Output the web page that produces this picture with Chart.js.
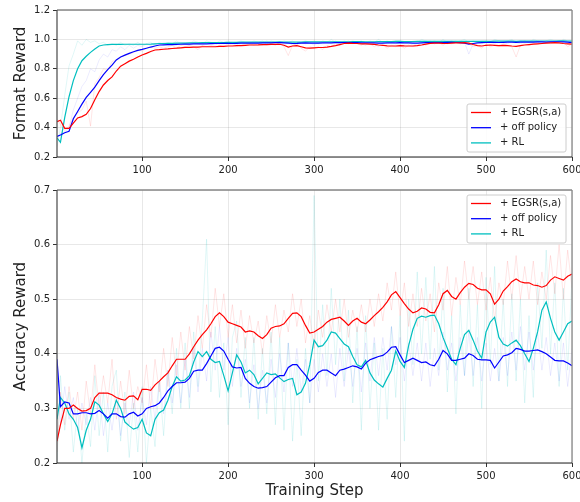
<!DOCTYPE html>
<html>
<head>
<meta charset="utf-8">
<script src="https://cdn.jsdelivr.net/npm/chart.js@4.4.1/dist/chart.umd.min.js"></script>
<style>
  html, body { margin: 0; padding: 0; background: #fff; }
  #wrap { position: relative; width: 580px; height: 502px; }
  #fmt { position: absolute; left: 0; top: 0; }
  #acc { position: absolute; left: 0; top: 180px; }
</style>
</head>
<body>
<div id="wrap">
  <canvas id="fmt" width="580" height="180" style="width:580px;height:180px"></canvas>
  <canvas id="acc" width="580" height="322" style="width:580px;height:322px"></canvas>
</div>
<script>
// training steps: 1, 5, 10, ... 600
const steps = [1];
for (let s = 5; s <= 600; s += 5) steps.push(s);

const seriesNames = ['+ EGSR(s,a)', '+ off policy', '+ RL'];
const xTicks = [100, 200, 300, 400, 500, 600];

/* Format reward (top) */
const fmtRed = [
  0.44,0.45,0.395,0.395,0.43,0.466,0.475,0.49,0.53,0.59,
  0.645,0.69,0.72,0.745,0.785,0.818,0.835,0.852,0.865,0.88,
  0.894,0.905,0.918,0.928,0.93,0.933,0.935,0.938,0.94,0.943,
  0.946,0.946,0.948,0.948,0.95,0.95,0.95,0.95,0.952,0.953,
  0.955,0.955,0.957,0.958,0.96,0.962,0.962,0.963,0.965,0.965,
  0.966,0.966,0.967,0.96,0.948,0.955,0.958,0.95,0.942,0.94,
  0.943,0.945,0.945,0.948,0.952,0.958,0.965,0.972,0.975,0.973,
  0.972,0.97,0.97,0.968,0.966,0.962,0.96,0.956,0.955,0.955,
  0.958,0.956,0.955,0.955,0.958,0.962,0.968,0.973,0.975,0.975,
  0.973,0.972,0.975,0.976,0.977,0.978,0.975,0.965,0.958,0.955,
  0.96,0.962,0.96,0.958,0.96,0.958,0.955,0.953,0.958,0.962,
  0.965,0.968,0.97,0.972,0.974,0.976,0.978,0.976,0.972,0.97,
  0.968
];
const fmtBlue = [
  0.34,0.35,0.365,0.375,0.46,0.51,0.56,0.605,0.64,0.675,
  0.72,0.76,0.795,0.825,0.86,0.88,0.893,0.905,0.916,0.925,
  0.932,0.94,0.948,0.955,0.962,0.963,0.964,0.965,0.966,0.967,
  0.968,0.968,0.969,0.97,0.97,0.97,0.971,0.972,0.972,0.973,
  0.973,0.972,0.973,0.974,0.974,0.975,0.975,0.974,0.976,0.977,
  0.977,0.978,0.978,0.976,0.974,0.972,0.973,0.975,0.976,0.975,
  0.974,0.975,0.976,0.977,0.977,0.978,0.978,0.979,0.979,0.978,
  0.978,0.977,0.976,0.977,0.976,0.974,0.975,0.976,0.977,0.977,
  0.978,0.977,0.976,0.974,0.975,0.977,0.978,0.978,0.979,0.978,
  0.979,0.98,0.98,0.979,0.978,0.975,0.968,0.972,0.976,0.978,
  0.979,0.98,0.98,0.979,0.98,0.981,0.981,0.98,0.981,0.982,
  0.982,0.982,0.983,0.983,0.982,0.983,0.984,0.984,0.983,0.982,
  0.978
];
const fmtCyan = [
  0.33,0.30,0.47,0.61,0.72,0.80,0.855,0.885,0.912,0.935,
  0.955,0.962,0.965,0.966,0.966,0.966,0.967,0.967,0.967,0.967,
  0.967,0.967,0.968,0.97,0.972,0.972,0.973,0.973,0.974,0.975,
  0.975,0.976,0.977,0.977,0.978,0.978,0.978,0.979,0.979,0.979,
  0.98,0.98,0.98,0.981,0.981,0.981,0.981,0.982,0.982,0.982,
  0.982,0.982,0.983,0.982,0.982,0.981,0.982,0.982,0.983,0.983,
  0.983,0.983,0.984,0.984,0.984,0.983,0.983,0.984,0.984,0.985,
  0.985,0.985,0.984,0.984,0.984,0.985,0.985,0.985,0.985,0.986,
  0.986,0.985,0.985,0.985,0.986,0.986,0.986,0.986,0.986,0.987,
  0.987,0.987,0.986,0.986,0.987,0.987,0.987,0.986,0.986,0.987,
  0.987,0.987,0.988,0.988,0.988,0.988,0.988,0.987,0.988,0.988,
  0.988,0.988,0.989,0.989,0.989,0.989,0.989,0.99,0.99,0.989,
  0.988
];
const fmtRedRaw = [
  0.46,0.42,0.38,0.41,0.47,0.50,0.52,0.58,0.41,0.70,
  0.74,0.80,0.79,0.85,0.86,0.88,0.89,0.90,0.91,0.93,
  0.92,0.94,0.95,0.94,0.95,0.94,0.95,0.96,0.94,0.96,
  0.95,0.96,0.95,0.93,0.96,0.95,0.96,0.95,0.96,0.95,
  0.97,0.96,0.95,0.97,0.96,0.97,0.96,0.97,0.96,0.98,
  0.97,0.96,0.98,0.95,0.89,0.96,0.97,0.94,0.92,0.95,
  0.94,0.95,0.93,0.96,0.95,0.97,0.96,0.98,0.97,0.98,
  0.97,0.96,0.98,0.97,0.95,0.97,0.96,0.94,0.96,0.95,
  0.96,0.94,0.96,0.95,0.96,0.97,0.96,0.98,0.97,0.98,
  0.96,0.98,0.97,0.98,0.97,0.98,0.97,0.95,0.96,0.94,
  0.97,0.95,0.96,0.95,0.97,0.96,0.95,0.88,0.96,0.97,
  0.96,0.97,0.98,0.97,0.98,0.97,0.98,0.97,0.98,0.95,
  0.97
];
const fmtBlueRaw = [
  0.33,0.36,0.37,0.40,0.52,0.60,0.68,0.72,0.80,0.78,
  0.86,0.90,0.88,0.93,0.92,0.95,0.93,0.96,0.94,0.96,
  0.95,0.97,0.96,0.97,0.96,0.98,0.96,0.97,0.96,0.98,
  0.97,0.96,0.98,0.97,0.96,0.98,0.97,0.96,0.98,0.97,
  0.98,0.97,0.96,0.98,0.97,0.98,0.97,0.98,0.97,0.99,
  0.97,0.98,0.97,0.96,0.98,0.96,0.97,0.98,0.97,0.98,
  0.96,0.98,0.97,0.98,0.97,0.99,0.97,0.98,0.99,0.97,
  0.98,0.97,0.96,0.98,0.97,0.95,0.98,0.97,0.98,0.97,
  0.98,0.97,0.98,0.96,0.97,0.98,0.97,0.99,0.97,0.98,
  0.99,0.97,0.98,0.99,0.97,0.98,0.90,0.97,0.98,0.97,
  0.99,0.98,0.97,0.99,0.98,0.97,0.99,0.98,0.97,0.99,
  0.98,0.99,0.98,0.97,0.99,0.98,0.99,0.98,0.99,0.97,
  0.98
];
const fmtCyanRaw = [
  0.27,0.40,0.62,0.82,0.90,0.99,0.96,1.00,0.98,0.99,
  0.97,0.98,0.96,0.97,0.96,0.98,0.96,0.97,0.96,0.98,
  0.96,0.97,0.98,0.96,0.98,0.97,0.98,0.97,0.99,0.97,
  0.98,0.97,0.99,0.98,0.97,0.99,0.98,0.97,0.99,0.98,
  0.99,0.97,0.98,0.99,0.98,0.97,0.99,0.98,0.99,0.97,
  0.99,0.98,0.97,0.99,0.98,0.99,0.97,0.98,0.99,0.98,
  0.99,0.97,0.99,0.98,1.00,0.98,0.97,0.99,0.98,0.99,
  0.98,0.99,0.97,0.99,0.98,1.00,0.98,0.99,0.98,0.99,
  0.99,0.98,0.97,0.99,0.98,1.00,0.99,0.98,0.99,0.98,
  1.00,0.98,0.99,0.98,0.99,1.00,0.98,0.99,0.98,0.99,
  0.99,0.98,1.00,0.99,0.98,0.99,1.00,0.98,0.99,0.99,
  0.98,1.00,0.99,0.98,0.99,1.00,0.99,0.98,1.00,0.99,
  0.99
];

/* Accuracy reward (bottom) */
const accRed = [
  0.24,0.27,0.30,0.30,0.306,0.30,0.295,0.296,0.30,0.32,
  0.328,0.328,0.328,0.325,0.32,0.317,0.315,0.322,0.323,0.316,
  0.335,0.335,0.333,0.343,0.35,0.358,0.365,0.378,0.39,0.39,
  0.39,0.40,0.413,0.425,0.435,0.444,0.455,0.468,0.475,0.468,
  0.458,0.455,0.452,0.449,0.44,0.442,0.44,0.433,0.428,0.435,
  0.447,0.45,0.451,0.455,0.465,0.474,0.475,0.468,0.452,0.438,
  0.44,0.445,0.45,0.458,0.463,0.465,0.467,0.46,0.452,0.46,
  0.465,0.458,0.455,0.462,0.47,0.477,0.485,0.495,0.508,0.514,
  0.503,0.492,0.482,0.475,0.478,0.484,0.482,0.476,0.475,0.49,
  0.51,0.516,0.505,0.50,0.512,0.522,0.529,0.527,0.52,0.517,
  0.517,0.51,0.491,0.50,0.515,0.523,0.532,0.537,0.532,0.53,
  0.53,0.526,0.525,0.522,0.525,0.535,0.541,0.538,0.535,0.542,
  0.546
];
const accBlue = [
  0.39,0.303,0.312,0.31,0.29,0.29,0.292,0.292,0.29,0.291,
  0.296,0.29,0.282,0.29,0.29,0.285,0.284,0.29,0.293,0.286,
  0.29,0.30,0.303,0.305,0.31,0.32,0.332,0.34,0.347,0.347,
  0.348,0.355,0.368,0.37,0.37,0.382,0.396,0.41,0.412,0.405,
  0.39,0.376,0.374,0.375,0.355,0.346,0.34,0.337,0.338,0.34,
  0.348,0.356,0.36,0.36,0.375,0.38,0.38,0.37,0.361,0.35,
  0.355,0.366,0.37,0.37,0.365,0.36,0.37,0.372,0.375,0.378,
  0.376,0.372,0.383,0.389,0.392,0.395,0.397,0.403,0.412,0.413,
  0.398,0.384,0.388,0.392,0.388,0.384,0.385,0.38,0.378,0.39,
  0.406,0.40,0.388,0.388,0.39,0.392,0.40,0.397,0.39,0.389,
  0.389,0.388,0.374,0.385,0.396,0.398,0.402,0.41,0.408,0.405,
  0.405,0.406,0.407,0.404,0.40,0.394,0.388,0.387,0.387,0.383,
  0.378
];
const accCyan = [
  0.28,0.32,0.31,0.29,0.28,0.265,0.228,0.26,0.28,0.312,
  0.306,0.29,0.276,0.29,0.315,0.30,0.275,0.268,0.262,0.265,
  0.28,0.255,0.25,0.28,0.292,0.297,0.315,0.34,0.358,0.35,
  0.352,0.36,0.385,0.404,0.395,0.404,0.39,0.384,0.386,0.36,
  0.332,0.365,0.398,0.385,0.365,0.37,0.362,0.345,0.355,0.365,
  0.362,0.363,0.356,0.349,0.353,0.355,0.325,0.33,0.346,0.38,
  0.425,0.413,0.415,0.425,0.44,0.438,0.428,0.418,0.413,0.395,
  0.38,0.376,0.388,0.365,0.352,0.345,0.339,0.355,0.37,0.405,
  0.386,0.375,0.415,0.445,0.465,0.469,0.467,0.47,0.471,0.455,
  0.43,0.41,0.39,0.38,0.41,0.435,0.443,0.425,0.405,0.392,
  0.44,0.458,0.467,0.43,0.418,0.414,0.42,0.425,0.415,0.40,
  0.386,0.41,0.44,0.48,0.495,0.465,0.44,0.425,0.44,0.455,
  0.46
];
const accRedRaw = [
  0.22,0.33,0.27,0.34,0.28,0.33,0.26,0.35,0.29,0.38,
  0.30,0.36,0.31,0.39,0.28,0.35,0.29,0.37,0.30,0.34,
  0.31,0.38,0.30,0.39,0.33,0.41,0.34,0.43,0.36,0.44,
  0.37,0.45,0.39,0.47,0.41,0.49,0.43,0.52,0.45,0.51,
  0.43,0.49,0.42,0.48,0.41,0.47,0.42,0.46,0.40,0.47,
  0.42,0.49,0.43,0.48,0.44,0.51,0.45,0.50,0.42,0.47,
  0.41,0.48,0.43,0.49,0.44,0.50,0.44,0.50,0.43,0.48,
  0.44,0.49,0.44,0.50,0.45,0.51,0.46,0.53,0.48,0.55,
  0.47,0.53,0.45,0.51,0.45,0.52,0.46,0.51,0.44,0.53,
  0.48,0.56,0.47,0.54,0.49,0.57,0.50,0.56,0.49,0.55,
  0.48,0.54,0.46,0.53,0.49,0.57,0.50,0.58,0.50,0.56,
  0.50,0.57,0.49,0.55,0.50,0.58,0.51,0.60,0.50,0.59,
  0.52
];
const accBlueRaw = [
  0.40,0.27,0.34,0.28,0.32,0.26,0.31,0.27,0.32,0.26,
  0.33,0.25,0.31,0.26,0.32,0.25,0.31,0.27,0.33,0.26,
  0.32,0.27,0.34,0.28,0.35,0.29,0.37,0.31,0.38,0.31,
  0.39,0.32,0.41,0.33,0.41,0.35,0.44,0.37,0.45,0.37,
  0.43,0.34,0.41,0.34,0.39,0.31,0.38,0.30,0.37,0.31,
  0.39,0.32,0.40,0.33,0.42,0.34,0.41,0.33,0.39,0.31,
  0.39,0.33,0.40,0.34,0.40,0.32,0.41,0.34,0.41,0.34,
  0.41,0.33,0.42,0.35,0.43,0.36,0.43,0.37,0.45,0.38,
  0.43,0.35,0.42,0.36,0.42,0.35,0.42,0.34,0.41,0.36,
  0.44,0.37,0.42,0.35,0.43,0.36,0.44,0.36,0.43,0.35,
  0.42,0.35,0.41,0.35,0.43,0.36,0.44,0.37,0.45,0.37,
  0.44,0.37,0.44,0.37,0.43,0.36,0.42,0.35,0.42,0.34,
  0.41
];
const accCyanRaw = [
  0.20,0.36,0.26,0.33,0.22,0.30,0.20,0.29,0.23,0.36,
  0.25,0.33,0.22,0.34,0.37,0.24,0.33,0.21,0.31,0.22,
  0.34,0.20,0.30,0.23,0.35,0.25,0.37,0.29,0.41,0.30,
  0.42,0.30,0.44,0.34,0.46,0.61,0.33,0.45,0.32,0.42,
  0.27,0.43,0.46,0.32,0.43,0.30,0.43,0.28,0.41,0.29,
  0.44,0.27,0.43,0.26,0.42,0.24,0.39,0.25,0.41,0.31,
  0.69,0.35,0.49,0.36,0.52,0.38,0.50,0.35,0.48,0.31,
  0.45,0.26,0.47,0.30,0.42,0.26,0.41,0.28,0.45,0.32,
  0.47,0.24,0.50,0.38,0.55,0.40,0.54,0.39,0.56,0.37,
  0.52,0.33,0.47,0.29,0.49,0.36,0.52,0.34,0.49,0.30,
  0.54,0.38,0.56,0.35,0.50,0.34,0.51,0.35,0.50,0.31,
  0.47,0.32,0.53,0.41,0.59,0.40,0.53,0.34,0.52,0.37,
  0.54
];

const colors = ['#ff0000', '#0000ff', '#00bfbf'];
const rawColors = ['rgba(255,0,0,0.10)', 'rgba(0,0,255,0.08)', 'rgba(0,191,191,0.12)'];

Chart.defaults.font.family = 'DejaVu Sans';
Chart.defaults.font.size = 10;
Chart.defaults.color = '#222';

function pts(vals) {
  return steps.map((s, i) => ({ x: s, y: vals[i] }));
}

function buildSets(smooth, raw) {
  const sets = [];
  smooth.forEach((vals, i) => {
    sets.push({ label: seriesNames[i], data: pts(vals), borderColor: colors[i],
      borderWidth: 1.2, pointRadius: 0, order: 0 });
  });
  raw.forEach((vals, i) => {
    sets.push({ label: 'raw' + i, data: pts(vals), borderColor: rawColors[i],
      borderWidth: 1, pointRadius: 0, order: 1 });
  });
  return sets;
}

// spines like matplotlib
const spines = {
  id: 'spines',
  afterDatasetsDraw(chart) {
    const { ctx, chartArea: a } = chart;
    ctx.save();
    ctx.lineWidth = 1.3;
    ctx.strokeStyle = '#888';
    ctx.beginPath();
    ctx.moveTo(a.left, a.top); ctx.lineTo(a.right, a.top);
    ctx.moveTo(a.right, a.top); ctx.lineTo(a.right, a.bottom);
    ctx.stroke();
    ctx.strokeStyle = '#555';
    ctx.beginPath();
    ctx.moveTo(a.left, a.top); ctx.lineTo(a.left, a.bottom);
    ctx.stroke();
    ctx.strokeStyle = '#222';
    ctx.lineWidth = 1.2;
    ctx.beginPath();
    ctx.moveTo(a.left, a.bottom); ctx.lineTo(a.right, a.bottom);
    ctx.stroke();
    ctx.restore();
  }
};

// legend boxed inside the plot
const innerLegend = {
  id: 'innerLegend',
  afterDraw(chart, args, opts) {
    const { ctx, chartArea: a } = chart;
    const w = 99, h = 48;
    const x = a.right - 6 - w;
    const y = opts.corner === 'tr' ? a.top + 5 : a.bottom - 5 - h;
    ctx.save();
    ctx.beginPath();
    ctx.roundRect(x, y, w, h, 2);
    ctx.fillStyle = 'rgba(255,255,255,0.85)';
    ctx.fill();
    ctx.strokeStyle = '#cccccc';
    ctx.lineWidth = 1;
    ctx.stroke();
    ctx.font = '10px "DejaVu Sans"';
    ctx.textBaseline = 'middle';
    ctx.fillStyle = '#222';
    seriesNames.forEach((name, i) => {
      const cy = y + 8.5 + i * 15.2;
      ctx.strokeStyle = colors[i];
      ctx.lineWidth = 1.3;
      ctx.beginPath();
      ctx.moveTo(x + 4, cy); ctx.lineTo(x + 24, cy);
      ctx.stroke();
      ctx.fillText(name, x + 33, cy);
    });
    ctx.restore();
  }
};

function makeOptions(yMin, yMax, yStep, yTitle, xTitle, xAxisH, corner) {
  return {
    responsive: false,
    animation: false,
    layout: { padding: { left: 0, right: 8, top: 10, bottom: 0 } },
    plugins: { legend: { display: false }, tooltip: { enabled: false },
      innerLegend: { corner: corner } },
    scales: {
      x: {
        type: 'linear', min: 1, max: 600,
        afterBuildTicks: (s) => { s.ticks = xTicks.map(v => ({ value: v })); },
        afterFit: (s) => { s.height = xAxisH; s.paddingRight = 0; s.paddingLeft = 0; },
        ticks: { padding: 3, maxRotation: 0, color: '#222' },
        grid: { color: 'rgba(0,0,0,0.09)', tickLength: 4, tickColor: '#333' },
        border: { display: false },
        title: { display: !!xTitle, text: xTitle, font: { size: 15 }, color: '#222',
          padding: { top: 0, bottom: 2 } }
      },
      y: {
        min: yMin, max: yMax,
        afterFit: (s) => { s.width = 57; s.paddingTop = 0; s.paddingBottom = 0; },
        ticks: { stepSize: yStep, padding: 3, color: '#222',
          callback: (v) => v.toFixed(1) },
        grid: { color: 'rgba(0,0,0,0.09)', tickLength: 4, tickColor: '#333' },
        border: { display: false },
        title: { display: true, text: yTitle, font: { size: 15 }, color: '#222',
          padding: { top: 12, bottom: 0 } }
      }
    }
  };
}

new Chart(document.getElementById('fmt'), {
  type: 'line',
  data: { datasets: buildSets([fmtRed, fmtBlue, fmtCyan], [fmtRedRaw, fmtBlueRaw, fmtCyanRaw]) },
  options: makeOptions(0.2, 1.2, 0.2, 'Format Reward', '', 23, 'br'),
  plugins: [spines, innerLegend]
});

new Chart(document.getElementById('acc'), {
  type: 'line',
  data: { datasets: buildSets([accRed, accBlue, accCyan], [accRedRaw, accBlueRaw, accCyanRaw]) },
  options: makeOptions(0.2, 0.7, 0.1, 'Accuracy Reward', 'Training Step', 39, 'tr'),
  plugins: [spines, innerLegend]
});
</script>
</body>
</html>
